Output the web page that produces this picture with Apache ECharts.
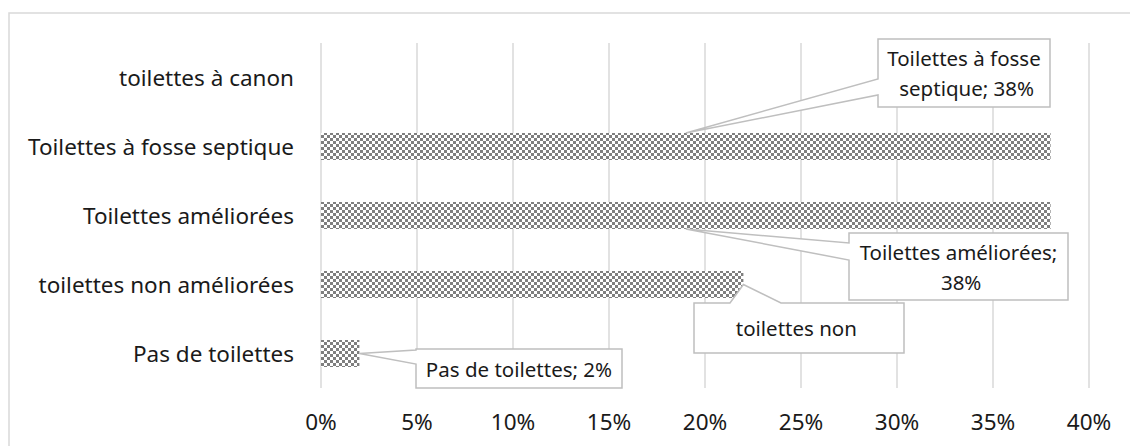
<!DOCTYPE html>
<html>
<head>
<meta charset="utf-8">
<script src="https://cdn.jsdelivr.net/npm/echarts@6/dist/echarts.min.js"></script>
<style>
  html, body { margin: 0; padding: 0; background: #ffffff; }
  #chart { width: 1130px; height: 446px; }
</style>
</head>
<body>
<div id="chart"></div>
<script>
// Sanitation types (top to bottom) and their share of households, in percent
const categories = [
  'toilettes à canon',
  'Toilettes à fosse septique',
  'Toilettes améliorées',
  'toilettes non améliorées',
  'Pas de toilettes'
];
const values = [0, 38, 38, 22, 2];

// Percentage axis
const axisMin = 0;
const axisMax = 40;
const axisStep = 5;

const FONT = 'Noto Sans';
const AXIS_FONT_SIZE = 22.5;
const CALLOUT_FONT_SIZE = 20.5;
const TEXT_COLOR = '#1a1a1a';
const GRID_COLOR = '#d9d9d9';
const CALLOUT_BORDER = '#bfbfbf';
const BAR_WIDTH = 27;

// 3px gray/white checkerboard tile used as the bar fill
function checkerTile() {
  const cell = 3;
  const cvs = document.createElement('canvas');
  cvs.width = cell * 2;
  cvs.height = cell * 2;
  const ctx = cvs.getContext('2d');
  ctx.fillStyle = '#ffffff';
  ctx.fillRect(0, 0, cell * 2, cell * 2);
  ctx.fillStyle = '#7f7f7f';
  ctx.fillRect(0, 0, cell, cell);
  ctx.fillRect(cell, cell, cell, cell);
  return cvs;
}
const tile = checkerTile();

const chart = echarts.init(document.getElementById('chart'), null, { renderer: 'svg' });

chart.setOption({
  backgroundColor: '#ffffff',
  animation: false,
  grid: { left: 321, right: 41, top: 43, bottom: 58, containLabel: false },
  xAxis: {
    type: 'value',
    min: axisMin,
    max: axisMax,
    interval: axisStep,
    axisLine: { show: false },
    axisTick: { show: false },
    splitLine: { show: true, lineStyle: { color: GRID_COLOR, width: 1.5 } },
    axisLabel: {
      margin: 22,
      color: TEXT_COLOR,
      fontFamily: FONT,
      fontSize: AXIS_FONT_SIZE,
      formatter: v => v + '%'
    }
  },
  yAxis: {
    type: 'category',
    inverse: true,
    data: categories,
    axisLine: { show: false },
    axisTick: { show: false },
    splitLine: { show: false },
    axisLabel: {
      margin: 27,
      color: TEXT_COLOR,
      fontFamily: FONT,
      fontSize: AXIS_FONT_SIZE
    }
  },
  series: [{
    type: 'bar',
    data: values,
    barWidth: BAR_WIDTH,
    itemStyle: {
      color: { image: tile, repeat: 'repeat', imageWidth: tile.width, imageHeight: tile.height }
    },
    label: { show: false }
  }]
});

// Data callouts: box rectangle [x0, y0, x1, y1], which bar point the pointer
// aims at, and where the pointer leaves the box (edge + two offsets on it).
const callouts = [
  { index: 1, box: [878, 39, 1050, 107], aim: 'topMid',    edge: 'left', base: [79, 95],   textWidth: 165 },
  { index: 2, box: [849, 233, 1068, 300], aim: 'bottomMid', edge: 'left', base: [243, 260], textWidth: 222 },
  { index: 3, box: [694, 303, 904, 353], aim: 'end',       edge: 'top',  base: [730, 781], textWidth: 190, oneLine: true },
  { index: 4, box: [416, 349, 622, 388], aim: 'end',       edge: 'left', base: [350, 364], textWidth: 204 }
];

function aimPoint(c) {
  const v = values[c.index];
  const center = chart.convertToPixel({ gridIndex: 0 }, [v, c.index]);
  const half = BAR_WIDTH / 2;
  if (c.aim === 'topMid') {
    return [chart.convertToPixel({ gridIndex: 0 }, [v / 2, c.index])[0], center[1] - half];
  }
  if (c.aim === 'bottomMid') {
    return [chart.convertToPixel({ gridIndex: 0 }, [v / 2, c.index])[0], center[1] + half];
  }
  return center;
}

function calloutShape(c, p) {
  const [x0, y0, x1, y1] = c.box;
  const [b0, b1] = c.base;
  if (c.edge === 'top') {
    return [[x0, y0], [b0, y0], p, [b1, y0], [x1, y0], [x1, y1], [x0, y1]];
  }
  return [[x0, y0], [x1, y0], [x1, y1], [x0, y1], [x0, b1], p, [x0, b0]];
}

const graphics = [{
  type: 'rect',
  silent: true,
  z: -10,
  shape: { x: 9, y: 13, width: 1200, height: 600 },
  style: { fill: 'none', stroke: GRID_COLOR, lineWidth: 1.5 }
}];

callouts.forEach(c => {
  const p = aimPoint(c);
  const [x0, y0, x1, y1] = c.box;
  graphics.push({
    type: 'polygon',
    silent: true,
    z: 10,
    shape: { points: calloutShape(c, p) },
    style: { fill: '#ffffff', stroke: CALLOUT_BORDER, lineWidth: 1.5 }
  });
  const style = {
    text: categories[c.index] + '; ' + values[c.index] + '%',
    x: (x0 + x1) / 2,
    y: (y0 + y1) / 2,
    align: 'center',
    verticalAlign: 'middle',
    fill: TEXT_COLOR,
    fontFamily: FONT,
    fontSize: CALLOUT_FONT_SIZE,
    lineHeight: 30,
    width: c.textWidth,
    overflow: 'break'
  };
  if (c.oneLine) {
    style.height = 30;
    style.lineOverflow = 'truncate';
  }
  graphics.push({ type: 'text', silent: true, z: 11, style });
});

chart.setOption({ graphic: graphics });
</script>
</body>
</html>
